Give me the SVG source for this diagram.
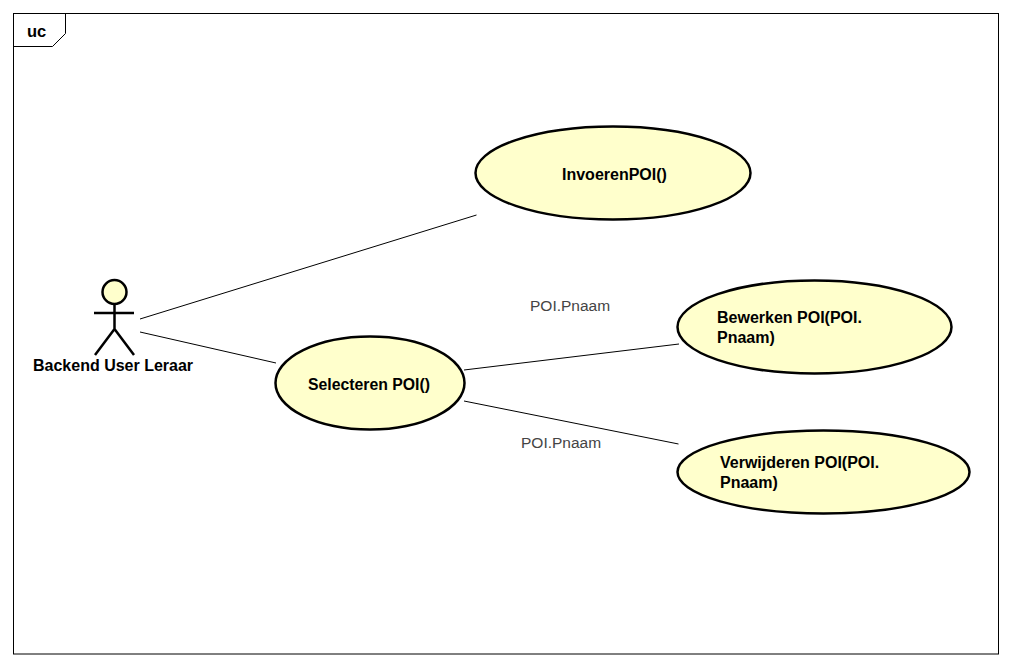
<svg xmlns="http://www.w3.org/2000/svg" width="1012" height="666" viewBox="0 0 1012 666">
<style>
.l{fill:none;stroke:#000;stroke-width:1}
.u{fill:#ffffcc;stroke:#000;stroke-width:2.5}
.a{fill:none;stroke:#000;stroke-width:2.5}
text{font-family:"Liberation Sans",Arial,sans-serif;fill:#000}
.b{font-weight:bold;font-size:16px}
.f{font-weight:bold;font-size:16.500px}
.n{fill:#444;font-size:15.500px}
</style>
<rect width="1012" height="666" fill="#fff"/>
<g id="frame">
<rect x="13.500" y="13.500" width="985" height="640.500" fill="none" stroke="#000"/>
<path class="l" d="M13.500 46.500H52.500L65.500 33.500V13.500"/>
<text class="f" x="27" y="37">uc</text>
</g>
<g id="connectors">
<line class="l" x1="140" y1="319" x2="476.500" y2="215"/>
<line class="l" x1="140" y1="332" x2="276" y2="363"/>
<line class="l" x1="464" y1="370" x2="679" y2="344"/>
<line class="l" x1="464" y1="401" x2="678.500" y2="444"/>
<text class="n" x="530" y="311">POI.Pnaam</text>
<text class="n" x="521" y="448">POI.Pnaam</text>
</g>
<g id="actor">
<circle class="u" cx="114.500" cy="292" r="12"/>
<path class="a" d="M114.500 304V329M94 313H134M114.500 329L95 355M114.500 329L134 355"/>
<text class="b" x="33" y="370.500">Backend User Leraar</text>
</g>
<g id="invoeren">
<ellipse class="u" cx="613" cy="173" rx="137.500" ry="46.500"/>
<text class="b" x="562" y="179.500">InvoerenPOI()</text>
</g>
<g id="selecteren">
<ellipse class="u" cx="370" cy="383" rx="94.500" ry="46.500"/>
<text class="b" x="308" y="389.500" textLength="122" lengthAdjust="spacingAndGlyphs">Selecteren POI()</text>
</g>
<g id="bewerken">
<ellipse class="u" cx="814.500" cy="327" rx="137" ry="46.500"/>
<text class="b" x="717" y="323">Bewerken POI(POI.</text>
<text class="b" x="717" y="343">Pnaam)</text>
</g>
<g id="verwijderen">
<ellipse class="u" cx="823.500" cy="472" rx="146" ry="41.500"/>
<text class="b" x="720" y="467.500">Verwijderen POI(POI.</text>
<text class="b" x="720" y="487.500">Pnaam)</text>
</g>
</svg>
